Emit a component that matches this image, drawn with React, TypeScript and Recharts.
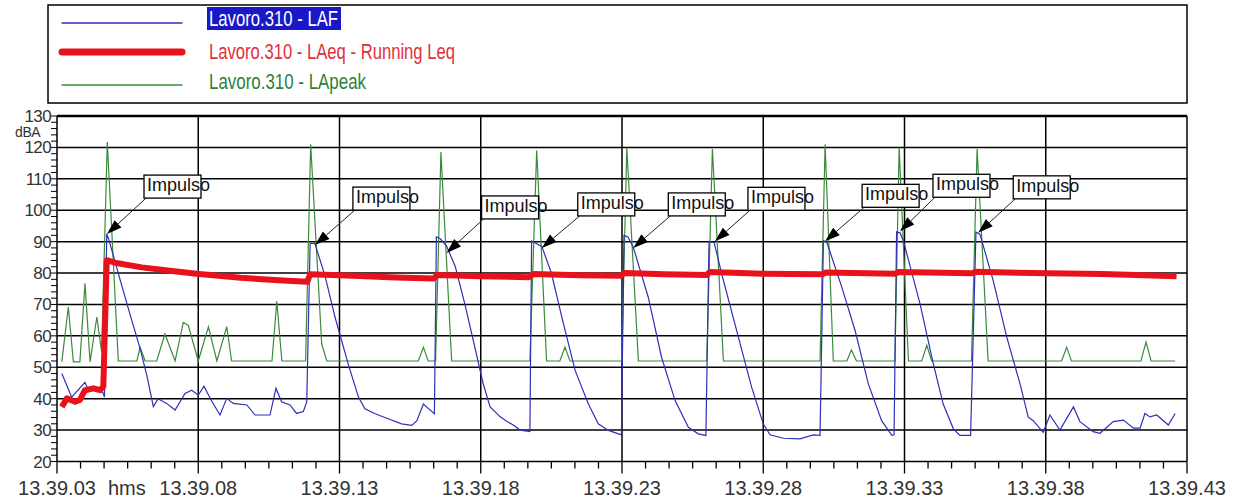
import React from 'react';
import { LineChart, Line, XAxis, YAxis, CartesianGrid, ReferenceDot, ReferenceLine } from 'recharts';

// time in seconds after 13.39.03, level in dBA
const lafPoints: [number, number][] = [
  [0.17, 48], [0.52, 40.5], [0.99, 45.2], [1.12, 42.6], [1.38, 43], [1.62, 42], [1.68, 40.5],
  [1.76, 92.5], [1.84, 90.5], [2.23, 78], [2.58, 67], [2.94, 56], [3.19, 47], [3.41, 37.5],
  [3.58, 40], [3.88, 38.5], [4.18, 36.4], [4.53, 41.7], [4.77, 42.7], [5.0, 41.1], [5.2, 44],
  [5.49, 39], [5.77, 34.8], [6.01, 40.1], [6.24, 38.5], [6.72, 38], [7.01, 34.8], [7.54, 34.8],
  [7.75, 43.3], [7.95, 39], [8.25, 38], [8.48, 35.3], [8.72, 35.9], [8.84, 39],
  [8.96, 89.4], [9.13, 89.4], [9.49, 79], [9.84, 66], [10.31, 51], [10.67, 40.5], [10.9, 36.8],
  [11.26, 35.2], [11.72, 33.6], [12.2, 32], [12.56, 31.5], [12.74, 33], [12.97, 38.3], [13.13, 37],
  [13.36, 35.2], [13.43, 91.5], [13.56, 91], [13.79, 88.6], [14.1, 82], [14.44, 70], [14.8, 56],
  [15.08, 45], [15.33, 37.4], [15.68, 34.3], [15.89, 33], [16.15, 31.6], [16.39, 30], [16.74, 29.5],
  [16.8, 90.2], [17.16, 88.5], [17.5, 80], [17.87, 66], [18.34, 49], [18.81, 38.3], [19.16, 32],
  [19.52, 29.9], [19.98, 28.5], [20.07, 92], [20.21, 91.5], [20.4, 88.2], [20.93, 72.3], [21.4, 53.2],
  [21.88, 39.4], [22.35, 30.9], [22.7, 28.8], [22.97, 28.3], [23.08, 89.8], [23.26, 89.8], [23.53, 79.7],
  [24.12, 59.6], [24.59, 43.6], [25.0, 32], [25.24, 28.5], [25.71, 27.4], [26.3, 27.2], [26.77, 28.5],
  [27.01, 28.3], [27.13, 90.3], [27.25, 89.8], [27.78, 75.5], [28.25, 61.7], [28.72, 44.7], [29.19, 33],
  [29.55, 28.3], [29.63, 28.5], [29.72, 93.1], [29.84, 92.8], [29.96, 90.3], [30.55, 70.2], [31.02, 51.1],
  [31.37, 38.3], [31.73, 30.4], [31.96, 28.3], [32.34, 28.3], [32.53, 93], [32.67, 92.4], [33.14, 77.6],
  [33.62, 59.6], [34.09, 44.7], [34.38, 34.1], [34.56, 33], [34.91, 29.3], [35.15, 34.8], [35.5, 30],
  [35.98, 37.4], [36.21, 32.7], [36.68, 29.5], [36.92, 29], [37.39, 32.7], [37.75, 33.2], [38.1, 30.6],
  [38.34, 30.6], [38.51, 35.3], [38.69, 34.2], [38.93, 34.8], [39.34, 31.6], [39.58, 35.3],
];

const leqPoints: [number, number][] = [
  [0.17, 37.4], [0.35, 40.1], [0.64, 39], [0.81, 39.6], [0.99, 42.7], [1.29, 43.3], [1.52, 42.7],
  [1.64, 43.8], [1.76, 84.1], [2.05, 83.3], [3.0, 81.8], [4.0, 80.7], [4.94, 79.8], [6.5, 78.5],
  [8.0, 77.6], [8.86, 77.2], [8.96, 79.6], [10.5, 79.1], [12.0, 78.6], [13.35, 78.3], [13.45, 79.4],
  [15.0, 79.0], [16.7, 78.7], [16.85, 79.7], [18.5, 79.3], [19.95, 79.1], [20.1, 80.0], [21.5, 79.6],
  [23.0, 79.4], [23.1, 80.3], [25.0, 79.8], [27.1, 79.6], [27.2, 80.2], [29.68, 79.8], [29.78, 80.3],
  [32.4, 79.9], [32.5, 80.4], [34.5, 80.0], [37.0, 79.7], [38.5, 79.3], [39.63, 79.0],
];

const peakPoints: [number, number][] = [
  [0.17, 51.7], [0.4, 69.2], [0.58, 51.7], [0.81, 51.7], [0.99, 76.7], [1.17, 51.7], [1.41, 66],
  [1.58, 55], [1.78, 121.7], [2.17, 52], [2.83, 52], [2.94, 56.4], [3.12, 52], [3.53, 52], [3.82, 60.6],
  [4.18, 52], [4.47, 64.3], [4.65, 63.3], [5.0, 52], [5.36, 62.9], [5.66, 52], [6.01, 62.9], [6.18, 52],
  [7.61, 52], [7.78, 71], [7.96, 52], [8.8, 52], [8.98, 121], [9.37, 57.4], [9.55, 52], [12.79, 52],
  [12.97, 56.4], [13.14, 52], [13.4, 52], [13.59, 118.5], [13.97, 52], [16.74, 52], [16.98, 119],
  [17.33, 52], [17.8, 52], [17.98, 56.4], [18.16, 52], [19.99, 52], [20.17, 120], [20.58, 52],
  [23.0, 52], [23.2, 119.5], [23.59, 52], [27.01, 52], [27.19, 121], [27.48, 52], [27.96, 52],
  [28.12, 55.5], [28.3, 52], [29.66, 52], [29.81, 120], [30.14, 52], [30.61, 52], [30.79, 57],
  [30.96, 52], [32.37, 52], [32.57, 119.5], [32.96, 52], [35.56, 52], [35.74, 56.4], [35.91, 52],
  [38.37, 52], [38.55, 58], [38.73, 52], [39.58, 52],
];

// where each "Impulso" arrow points
const impulseTimes = [1.77, 9.13, 13.79, 17.16, 20.4, 23.29, 27.19, 29.84, 32.61];
const impulseLevels = [92.4, 88.9, 86.4, 88.0, 88.0, 90.1, 90.1, 93.3, 92.8];
const impulseBoxOffsets: [number, number][] = [
  [37, -59], [38, -58], [35, -57], [36, -55], [35, -55], [33, -54], [37, -57], [33, -57], [35, -57],
];

const xTickLabels = ['13.39.03', '13.39.08', '13.39.13', '13.39.18', '13.39.23', '13.39.28', '13.39.33', '13.39.38', '13.39.43'];
const xTicks = Array.from({ length: 49 }, (_, i) => (i * 5) / 6);
const yTicks = Array.from({ length: 56 }, (_, i) => 20 + i * 2);
const gridY = [30, 40, 50, 60, 70, 80, 90, 100, 110, 120];
const gridX = [5, 10, 15, 20, 25, 30, 35];

const series = [
  { name: 'Lavoro.310 - LAF', color: '#2f2fb8', text: '#ffffff', width: 1.2, textLen: 129 },
  { name: 'Lavoro.310 - LAeq - Running Leq', color: '#e8121c', text: '#e0303c', width: 6, textLen: 246 },
  { name: 'Lavoro.310 - LApeak', color: '#3a8a3a', text: '#2f7f3a', width: 1.2, textLen: 157 },
];

const toRows = (pts: [number, number][]) => pts.map(([t, v]) => ({ t, v }));
const lafData = toRows(lafPoints);
const leqData = toRows(leqPoints);
const peakData = toRows(peakPoints);

const FONT = '"Liberation Sans", Arial, sans-serif';

const XTick = ({ x, y, payload }: any) => {
  const idx = Math.round(payload.value / 5);
  const major = Math.abs(payload.value - idx * 5) < 0.01;
  return (
    <g>
      <line x1={x} y1={y} x2={x} y2={y + (major ? 12 : 7)} stroke="#000" strokeWidth={1.3} />
      {major && (
        <text x={x} y={y + 33.5} textAnchor="middle" fontSize={20} fontFamily={FONT} fill="#333">
          {xTickLabels[idx]}
        </text>
      )}
    </g>
  );
};

const YTick = ({ x, y, payload }: any) => {
  const major = payload.value % 10 === 0;
  return (
    <g>
      <line x1={x - 6} y1={y} x2={x} y2={y} stroke="#000" strokeWidth={1} />
      {major && (
        <text x={x - 6} y={y + 6} textAnchor="end" fontSize={17} fontFamily={FONT} fill="#333" letterSpacing={-0.6}>
          {payload.value}
        </text>
      )}
    </g>
  );
};

const ImpulseLabel = ({ cx, cy, dx, dy }: any) => {
  const w = 57;
  const h = 23;
  const bx = cx + dx;
  const by = cy + dy;
  const sx = bx + 2;
  const sy = by + h;
  const vx = cx - sx;
  const vy = cy - sy;
  const len = Math.hypot(vx, vy);
  const ux = vx / len;
  const uy = vy / len;
  const L = 15;
  const hw = 5;
  const baseX = cx - ux * L;
  const baseY = cy - uy * L;
  const pts = `${cx},${cy} ${baseX - uy * hw},${baseY + ux * hw} ${baseX + uy * hw},${baseY - ux * hw}`;
  return (
    <g>
      <line x1={sx} y1={sy} x2={baseX} y2={baseY} stroke="#222" strokeWidth={1} />
      <polygon points={pts} fill="#000" />
      <rect x={bx} y={by} width={w} height={h} fill="#fff" stroke="#000" strokeWidth={1.3} />
      <text x={bx + 3} y={by + 16} fontSize={18} fontFamily={FONT} fill="#111">
        Impulso
      </text>
    </g>
  );
};

const Legend = () => {
  const rows = [
    { lineY: 23, textY: 26 },
    { lineY: 52, textY: 59 },
    { lineY: 85, textY: 89 },
  ];
  return (
    <svg width={1236} height={110} style={{ position: 'absolute', left: 0, top: 0, pointerEvents: 'none' }}>
      <rect x={48} y={5} width={1139} height={98} fill="#fff" stroke="#000" strokeWidth={1.5} />
      {series.map((s, i) => (
        <g key={s.name}>
          <line x1={62} y1={rows[i].lineY} x2={182} y2={rows[i].lineY} stroke={s.color}
            strokeWidth={s.width === 6 ? 7 : 1.3} strokeLinecap="round" />
          {i === 0 && <rect x={207} y={7} width={134} height={23} fill="#1818c8" />}
          <text x={209} y={rows[i].textY} fontSize={22} fontFamily={FONT} fill={s.text}
            textLength={s.textLen} lengthAdjust="spacingAndGlyphs">
            {s.name}
          </text>
        </g>
      ))}
    </svg>
  );
};

export default function App() {
  return (
    <div style={{ position: 'absolute', left: 0, top: 0, width: 1236, height: 502, background: '#fff' }}>
      <LineChart width={1236} height={502} margin={{ top: 116, right: 49, bottom: 0.5, left: 7 }}>
        <XAxis
          type="number"
          dataKey="t"
          domain={[0, 40]}
          ticks={xTicks}
          interval={0}
          tick={<XTick />}
          tickLine={false}
          tickSize={0}
          tickMargin={0}
          height={40}
          axisLine={{ stroke: '#000', strokeWidth: 1.5 }}
          allowDataOverflow
        />
        <YAxis
          type="number"
          domain={[20, 130]}
          ticks={yTicks}
          interval={0}
          tick={<YTick />}
          tickLine={false}
          tickSize={0}
          tickMargin={0}
          width={50}
          axisLine={{ stroke: '#000', strokeWidth: 1.5 }}
          allowDataOverflow
        />
        <CartesianGrid horizontalValues={gridY} verticalValues={gridX} stroke="#000" strokeWidth={1.5} />
        <ReferenceLine y={130} stroke="#000" strokeWidth={2.5} />
        <ReferenceLine x={40} stroke="#000" strokeWidth={1.5} />
        <Line data={peakData} dataKey="v" type="linear" stroke={series[2].color} strokeWidth={1.2}
          dot={false} activeDot={false} isAnimationActive={false} />
        <Line data={lafData} dataKey="v" type="linear" stroke={series[0].color} strokeWidth={1.2}
          dot={false} activeDot={false} isAnimationActive={false} />
        <Line data={leqData} dataKey="v" type="linear" stroke={series[1].color} strokeWidth={6}
          strokeLinejoin="round" dot={false} activeDot={false} isAnimationActive={false} />
        {impulseTimes.map((t, i) => (
          <ReferenceDot
            key={i}
            x={t}
            y={impulseLevels[i]}
            r={1}
            ifOverflow="visible"
            shape={(p: any) => (
              <ImpulseLabel cx={p.cx} cy={p.cy} dx={impulseBoxOffsets[i][0]} dy={impulseBoxOffsets[i][1]} />
            )}
          />
        ))}
      </LineChart>
      <Legend />
      <div style={{ position: 'absolute', left: 15, top: 125, fontSize: 14, lineHeight: '14px', fontFamily: FONT, color: '#333', letterSpacing: -0.4 }}>
        dBA
      </div>
      <div style={{ position: 'absolute', left: 108, top: 478, fontSize: 20, lineHeight: '20px', fontFamily: FONT, color: '#333' }}>
        hms
      </div>
    </div>
  );
}
